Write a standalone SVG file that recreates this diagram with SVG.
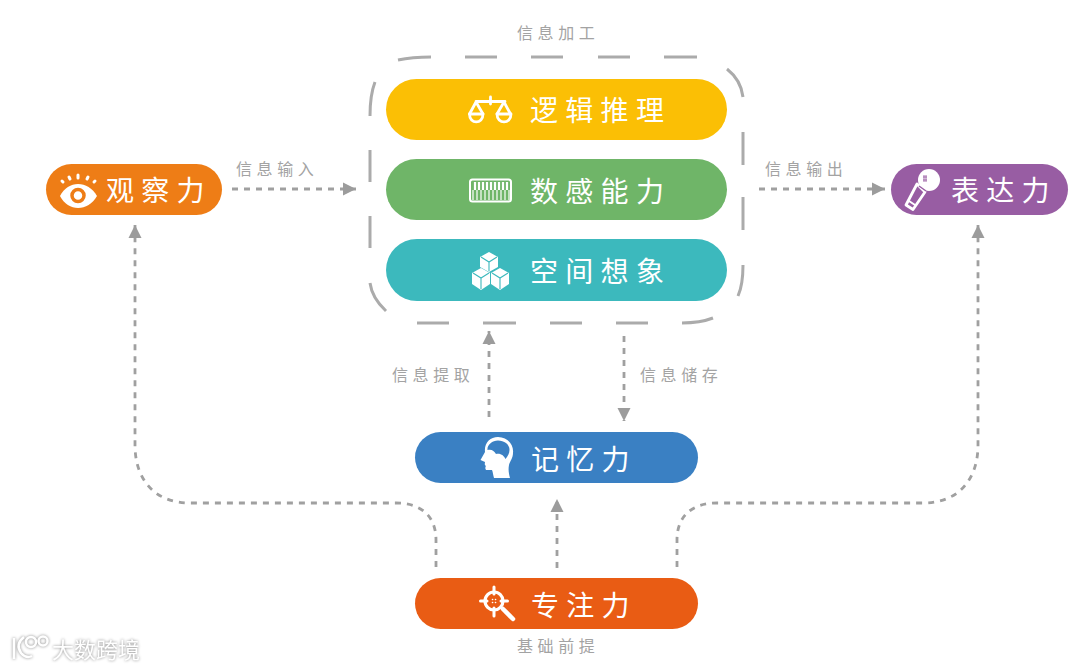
<svg xmlns="http://www.w3.org/2000/svg" width="1080" height="669" viewBox="0 0 1080 669">
<style>
.t{font-family:"Noto Sans CJK SC","Noto Sans",sans-serif;font-size:28px;letter-spacing:7.300px;fill:#fff;font-weight:400}
.s{font-family:"Noto Sans CJK SC","Noto Sans",sans-serif;font-size:16px;letter-spacing:4.600px;fill:#a3a3a3;font-weight:400}
.c{fill:none;stroke:#a0a0a0;stroke-width:2.800;stroke-dasharray:6 6}
.box{fill:none;stroke:#ababab;stroke-width:3}
.il{fill:none;stroke:#fff;stroke-width:2.800;stroke-linecap:round;stroke-linejoin:round}
.if{fill:#fff}
</style>
<defs>
<marker id="a" markerUnits="userSpaceOnUse" markerWidth="14" markerHeight="14" refX="13" refY="7" orient="auto"><path d="M0 0.500L13 7L0 13.500z" fill="#9c9c9c"/></marker>
</defs>
<rect width="1080" height="669" fill="#fff"/>
<g id="frame">
<path class="box" d="M398 60Q412 57 431 57M465 57H497M531 57H563M598 57H630M664 57H697M727 69Q741 80 743 97M743 132V165M743 197V230M743 265Q743 285 738 296M713 318Q700 323 682 323M648 323H616M582 323H550M516 323H483M449 323H417M386 311Q372 298 370 283M370 248V216M370 182V150M370 116Q370 95 375 82"/>
<text class="s" x="517" y="39">信息加工</text>
</g>
<g id="connectors">
<path class="c" marker-end="url(#a)" d="M232 189H356"/>
<path class="c" marker-end="url(#a)" d="M759 189H885"/>
<path class="c" marker-end="url(#a)" d="M436 567V540C436 515 420 503 396 503H190C155 503 135 480 135 445V225"/>
<path class="c" marker-end="url(#a)" d="M677 567V540C677 515 693 503 717 503H923C958 503 978 480 978 445V225"/>
<path class="c" marker-end="url(#a)" d="M557 568V499"/>
<path class="c" marker-end="url(#a)" d="M489 417V331"/>
<path class="c" marker-end="url(#a)" d="M624 336V421"/>
</g>
<g id="labels">
<text class="s" x="236" y="175">信息输入</text>
<text class="s" x="765" y="175">信息输出</text>
<text class="s" x="392" y="381">信息提取</text>
<text class="s" x="640" y="381">信息储存</text>
<text class="s" x="517" y="652">基础前提</text>
</g>
<g id="logic">
<rect x="386" y="79" width="341" height="61" rx="30.500" fill="#fbbf05"/>
<path class="il" d="M490.500 97V104M476 101.500H505M476 102L469.500 114M476 102L483 114M504 102L497 114M504 102L510.500 114"/>
<path class="il" d="M469.500 114H483C483 124.500 469.500 124.500 469.500 114ZM497 114H511C511 124.500 497 124.500 497 114Z" stroke-width="3"/>
<text class="t" x="530" y="121">逻辑推理</text>
</g>
<g id="number">
<rect x="386" y="159" width="341" height="61" rx="30.500" fill="#6fb568"/>
<rect x="470" y="179.500" width="41" height="22" rx="2.500" class="il" style="stroke-width:2"/>
<path d="M475 182V190M479 182V190M483 182V190M487 182V190M491 182V190M495 182V190M499 182V190M503 182V190M507 182V190" stroke="#fff" stroke-width="2.200"/>
<path d="M473 190V200M477 190V200M481 190V200M485 190V200M489 190V200M493 190V200M497 190V200M501 190V200M505 190V200M509 190V200" stroke="#fff" stroke-width="1.200"/>
<text class="t" x="530" y="202">数感能力</text>
</g>
<g id="space">
<rect x="386" y="239" width="341" height="62" rx="31" fill="#3cb9bd"/>
<path class="if" d="M489 252L498 257V267L489 272L480 267V257Z"/>
<path class="if" d="M481 268L490 273V284L481 290L472 284V273Z"/>
<path class="if" d="M500 268L509 273V284L500 290L491 284V273Z"/>
<path d="M481 257L489 262L497 257M489 262V271M473 273L481 278L489 273M481 278V289M492 273L500 278L508 273M500 278V289" fill="none" stroke="#3cb9bd" stroke-width="1.100"/>
<text class="t" x="530" y="282">空间想象</text>
</g>
<g id="observe">
<rect x="46" y="164" width="176" height="51" rx="25.500" fill="#ee7d16"/>
<path class="if" d="M60 196C68 180 88 180 97 196C88 212 68 212 60 196Z"/>
<circle cx="78" cy="195.500" r="6" fill="none" stroke="#ee7d16" stroke-width="3.500"/>
<path class="il" d="M62 181L63 182M69 177L70 179M78 175V178M88 177L87 179M95 181L94 182" style="stroke-width:3"/>
<text class="t" x="106" y="201">观察力</text>
</g>
<g id="express">
<rect x="891" y="164" width="177" height="51" rx="25.500" fill="#985da3"/>
<path class="il" d="M917 184L925 192L913 209.500L906 205Z"/>
<path class="il" d="M909 201L915 205" style="stroke-width:2"/>
<circle cx="929" cy="180" r="11" fill="#fff"/>
<path d="M923 177H927M923 180H927M924 175V182M926 175V182" stroke="#985da3" stroke-width="0.900" fill="none"/>
<path d="M919 186L926 191" stroke="#985da3" stroke-width="1.500" fill="none"/>
<text class="t" x="951" y="201">表达力</text>
</g>
<g id="memory">
<rect x="415" y="432" width="283" height="51" rx="25.500" fill="#3a80c3"/>
<path class="if" fill-rule="evenodd" d="M498 437C507 437 514 444 513 453C513 458 510 461 509 465C508 470 509 474 510 478L494 478C493 475 493 472 492 470H487C485 470 485 467 486 466C484 465 485 463 485 462L480.500 460L485 452C484 443 490 437 498 437ZM498 440.500C492 440.500 487 445 487.500 450C492 449 494 451 496 454C501 453 504 456 505.500 459C508 456 509.500 453 509.500 450C509.500 444 504 440.500 498 440.500Z"/>
<text class="t" x="531" y="470">记忆力</text>
</g>
<g id="focus">
<rect x="415" y="578" width="283" height="51" rx="25.500" fill="#e95c14"/>
<circle cx="494" cy="601" r="9" class="il" style="stroke-width:3.200"/>
<path class="il" d="M494 587V594M494 608V616M480.500 601H487M501 601H507.500" style="stroke-width:3"/>
<path class="il" d="M503 609L513 619" style="stroke-width:4.500"/>
<path d="M492.500 599.500h.1M495.500 599.500h.1M492.500 602.500h.1M495.500 602.500h.1" stroke="#fff" stroke-width="1.600" stroke-linecap="round"/>
<text class="t" x="531" y="616">专注力</text>
</g>
<g id="watermark">
<g fill="none" stroke="#fff" stroke-width="2.500" style="filter:drop-shadow(0 0 1.500px #8a8a8a)">
<path d="M14 638V659M24 637Q15 644 21 653Q26 659 32 656"/>
<circle cx="31" cy="642" r="5"/><circle cx="43" cy="641" r="4.500"/>
</g>
<text x="52" y="658" style="font-family:'Noto Sans CJK SC',sans-serif;font-size:22px;fill:#fff;filter:drop-shadow(0 0 1.500px #8a8a8a)">大数跨境</text>
</g>
</svg>
